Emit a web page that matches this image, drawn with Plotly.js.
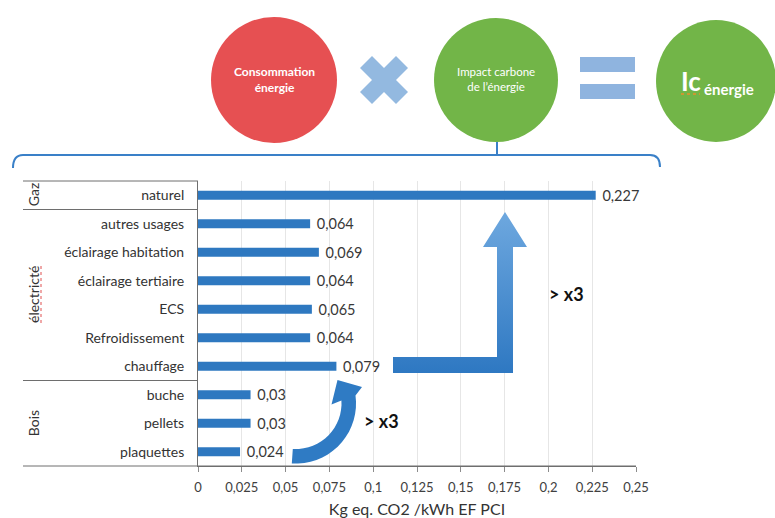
<!DOCTYPE html>
<html>
<head>
<meta charset="utf-8">
<script src="https://cdn.plot.ly/plotly-3.0.1.min.js"></script>
<style>html,body{margin:0;padding:0;background:#fff}#chart{width:775px;height:518px}</style>
</head>
<body>
<div id="chart"></div>
<script>
// ---- data ----
const categories = ['naturel', 'autres usages', 'éclairage habitation', 'éclairage tertiaire', 'ECS', 'Refroidissement', 'chauffage', 'buche', 'pellets', 'plaquettes'];
const values = [0.227, 0.064, 0.069, 0.064, 0.065, 0.064, 0.079, 0.03, 0.03, 0.024];
const groupNames = ['Gaz', 'électricté', 'Bois'];
const groupSizes = [1, 6, 3];
const tickVals = [0, 0.025, 0.05, 0.075, 0.1, 0.125, 0.15, 0.175, 0.2, 0.225, 0.25];
const tickLabels = ['0', '0,025', '0,05', '0,075', '0,1', '0,125', '0,15', '0,175', '0,2', '0,225', '0,25'];
const axisTitle = 'Kg eq. CO2 /kWh EF PCI';
const ratioLabel = '> x3';

// ---- layout geometry (pixels) ----
const W = 775, H = 518;
const PX0 = 198, PX1 = 636, PY0 = 181, PY1 = 466;
const FONT = 'Lato, "Open Sans", "DejaVu Sans", sans-serif';
const BLUE = '#2e78c0';
const rowPx = (PY1 - PY0) / categories.length;

const shapes = [];
const annotations = [];

// group separators
let acc = 0;
const sepY = [PY0];
groupSizes.forEach(n => { acc += n; sepY.push(PY0 + acc * rowPx); });
sepY.forEach((y, i) => {
  shapes.push({type: 'line', xref: 'x2', yref: 'y2', x0: 23, x1: (i === sepY.length - 1 ? PX1 : PX0), y0: y, y1: y,
    line: {color: '#6e6e6e', width: 1}});
});
// group labels
acc = 0;
groupNames.forEach((g, i) => {
  const yc = PY0 + (acc + groupSizes[i] / 2) * rowPx;
  acc += groupSizes[i];
  annotations.push({xref: 'x2', yref: 'y2', x: 33, y: yc, text: g, showarrow: false, textangle: -90,
    font: {family: FONT, size: 14, color: '#333'}});
});
// spell-check underline on électricté
shapes.push({type: 'line', xref: 'x2', yref: 'y2', x0: 41, x1: 41, y0: 266, y1: 323, line: {color: '#e05050', width: 1, dash: 'dot'}});

// top bracket
shapes.push({type: 'path', xref: 'x2', yref: 'y2', path: 'M 13,168 Q 13,155 23,155 L 650,155 Q 660,155 660,167', line: {color: '#3a80c8', width: 2}});
shapes.push({type: 'line', xref: 'x2', yref: 'y2', x0: 497, x1: 497, y0: 141, y1: 155, line: {color: '#3a80c8', width: 2}});

// circles
shapes.push({type: 'circle', xref: 'x2', yref: 'y2', x0: 211, x1: 337, y0: 17, y1: 143, fillcolor: '#e65052', line: {width: 0}});
shapes.push({type: 'circle', xref: 'x2', yref: 'y2', x0: 434, x1: 558, y0: 18, y1: 142, fillcolor: '#72b548', line: {width: 0}});
shapes.push({type: 'circle', xref: 'x2', yref: 'y2', x0: 656, x1: 776, y0: 20, y1: 142, fillcolor: '#72b548', line: {width: 0}});
// multiply cross
shapes.push({type: 'line', xref: 'x2', yref: 'y2', x0: 366, y0: 62, x1: 402, y1: 98, line: {color: '#93b9e0', width: 17}});
shapes.push({type: 'line', xref: 'x2', yref: 'y2', x0: 366, y0: 98, x1: 402, y1: 62, line: {color: '#93b9e0', width: 17}});
// equals
shapes.push({type: 'rect', xref: 'x2', yref: 'y2', x0: 580, x1: 635, y0: 57, y1: 72, fillcolor: '#8fb4df', line: {width: 0}});
shapes.push({type: 'rect', xref: 'x2', yref: 'y2', x0: 580, x1: 635, y0: 84, y1: 99, fillcolor: '#8fb4df', line: {width: 0}});
// Ic underline
shapes.push({type: 'line', xref: 'x2', yref: 'y2', x0: 681, x1: 700, y0: 94, y1: 94, line: {color: '#e8902a', width: 1.5, dash: 'dot'}});

// circle texts
annotations.push({xref: 'x2', yref: 'y2', x: 274, y: 79, text: '<b>Consommation<br>énergie</b>', showarrow: false,
  font: {family: FONT, size: 12, color: '#ffffff'}});
annotations.push({xref: 'x2', yref: 'y2', x: 496, y: 79, text: 'Impact carbone<br>de l\u2019énergie', showarrow: false,
  font: {family: FONT, size: 11.5, color: '#ffffff'}});
annotations.push({xref: 'x2', yref: 'y2', x: 691, y: 81, text: '<b>Ic</b>', showarrow: false,
  font: {family: FONT, size: 26, color: '#ffffff'}});
annotations.push({xref: 'x2', yref: 'y2', x: 729, y: 89, text: '<b>énergie</b>', showarrow: false,
  font: {family: FONT, size: 15, color: '#ffffff'}});

// curved arrow (arc band + head), built in pixel space
(function () {
  const cx = 296, cy = 403.5, rOut = 60, rIn = 45.5;
  const pts = [];
  const deg = Math.PI / 180;
  for (let a = 94; a >= -7.6; a -= 6) pts.push([cx + rOut * Math.cos(a * deg), cy + rOut * Math.sin(a * deg)]);
  pts.push([cx + rOut * Math.cos(-7.6 * deg), cy + rOut * Math.sin(-7.6 * deg)]);
  pts.push([362, 387]);   // right wing
  pts.push([337.5, 380]); // tip
  pts.push([331.5, 404.5]); // left wing
  const inner = [];
  for (let a = -3.8; a <= 94; a += 6) inner.push([cx + rIn * Math.cos(a * deg), cy + rIn * Math.sin(a * deg)]);
  inner.push([cx + rIn * Math.cos(94 * deg), cy + rIn * Math.sin(94 * deg)]);
  const all = pts.concat(inner);
  const path = 'M ' + all.map(p => p[0].toFixed(1) + ',' + p[1].toFixed(1)).join(' L ') + ' Z';
  shapes.push({type: 'path', xref: 'x2', yref: 'y2', path: path, fillcolor: '#2f7bc4', line: {width: 0}});
})();

// ratio labels
annotations.push({xref: 'x2', yref: 'y2', x: 566, y: 294, text: '<b>' + ratioLabel + '</b>', showarrow: false,
  font: {family: FONT, size: 18, color: '#111'}});
annotations.push({xref: 'x2', yref: 'y2', x: 381, y: 421, text: '<b>' + ratioLabel + '</b>', showarrow: false,
  font: {family: FONT, size: 18, color: '#111'}});

const barTrace = {
  type: 'bar', orientation: 'h', x: values, y: categories, xaxis: 'x', yaxis: 'y',
  width: 0.32, marker: {color: BLUE},
  text: values.map(v => ' ' + String(v).replace('.', ',')),
  textposition: 'outside', cliponaxis: false, constraintext: 'none',
  textfont: {family: FONT, size: 14.5, color: '#383838'},
  hoverinfo: 'skip'
};

const lArrow = {
  type: 'scatter', mode: 'lines', xaxis: 'x2', yaxis: 'y2',
  x: [393, 497, 497, 483, 505, 527, 513, 513, 393, 393],
  y: [357, 357, 247, 247, 212, 247, 247, 373, 373, 357],
  line: {width: 0, color: 'rgba(0,0,0,0)'}, fill: 'toself', fillcolor: '#4a90d4',
  fillgradient: {type: 'vertical', start: 373, stop: 212, colorscale: [[0, '#2e78c2'], [1, '#6ea8df']]},
  hoverinfo: 'skip'
};

const layout = {
  width: W, height: H,
  margin: {l: 0, r: 0, t: 0, b: 0, pad: 0},
  paper_bgcolor: '#ffffff', plot_bgcolor: 'rgba(0,0,0,0)',
  showlegend: false, separators: ', ',
  font: {family: FONT, color: '#333'},
  xaxis: {
    domain: [PX0 / W, PX1 / W], range: [0, 0.25], anchor: 'y', fixedrange: true,
    tickvals: tickVals, ticktext: tickLabels, ticks: 'outside', ticklen: 5, tickcolor: '#8c8c8c',
    ticklabelstandoff: 4,
    showgrid: true, gridcolor: '#e6e6e6', zeroline: false, showline: true, linecolor: '#6e6e6e',
    tickfont: {family: FONT, size: 13, color: '#404040'},
    title: {text: axisTitle, font: {family: FONT, size: 16, color: '#333'}}
  },
  yaxis: {
    domain: [1 - PY1 / H, 1 - PY0 / H], anchor: 'x', type: 'category', fixedrange: true,
    categoryorder: 'array', categoryarray: categories, range: [categories.length - 0.5, -0.5],
    ticks: '', ticklabelstandoff: 10, showgrid: false, zeroline: false,
    showline: true, linecolor: '#6e6e6e',
    tickfont: {family: FONT, size: 14, color: '#333'}
  },
  xaxis2: {domain: [0, 1], range: [0, W], anchor: 'y2', visible: false, fixedrange: true},
  yaxis2: {domain: [0, 1], range: [H, 0], anchor: 'x2', visible: false, fixedrange: true},
  shapes: shapes, annotations: annotations
};

Plotly.newPlot('chart', [barTrace, lArrow], layout, {displayModeBar: false, staticPlot: true});
</script>
</body>
</html>
